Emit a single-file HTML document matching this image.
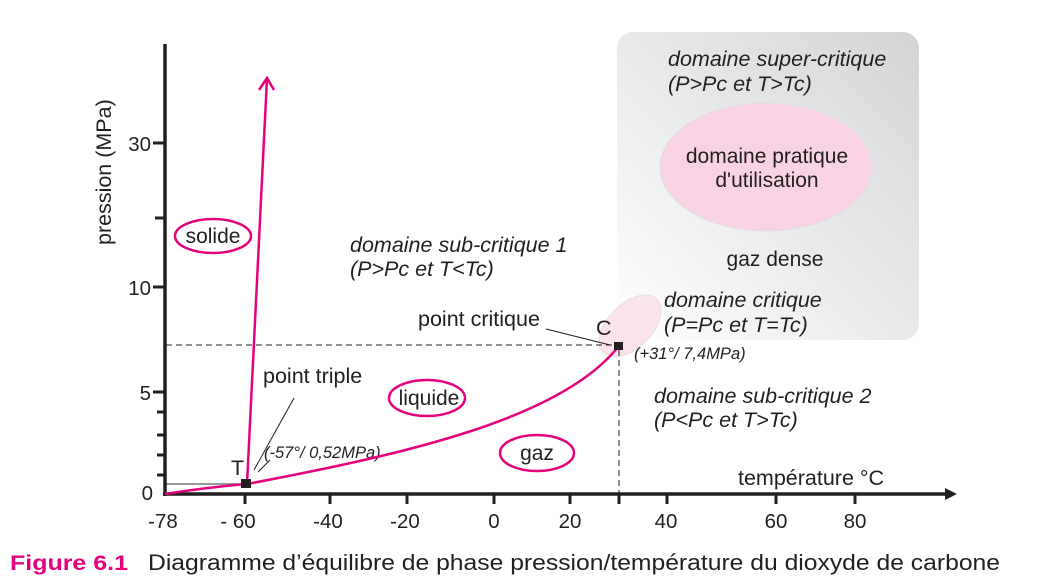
<!DOCTYPE html>
<html><head><meta charset="utf-8"><style>
body{margin:0;background:#fff;}
svg{display:block;font-family:"Liberation Sans",sans-serif;}
</style></head><body>
<svg width="1042" height="578" viewBox="0 0 1042 578" xmlns="http://www.w3.org/2000/svg">
<defs>
<linearGradient id="g" x1="0" y1="1" x2="1" y2="0">
<stop offset="0" stop-color="#ffffff"/><stop offset="0.55" stop-color="#e6e7e8"/><stop offset="1" stop-color="#d4d5d7"/>
</linearGradient>
</defs>
<rect x="617" y="32" width="302" height="308" rx="16" fill="url(#g)"/>
<ellipse cx="766" cy="167" rx="106" ry="64" fill="#f9d3e3" stroke="#ddd" stroke-width="0.8"/>
<ellipse cx="630" cy="326" rx="22" ry="38" transform="rotate(45 630 326)" fill="#fbe3ec" stroke="#ddd" stroke-width="0.8"/>
<text fill="#231f20" font-size="21.5" font-style="italic">
<tspan x="668" y="66">domaine super-critique</tspan><tspan x="668" y="91">(P&gt;Pc et T&gt;Tc)</tspan>
<tspan x="350" y="252">domaine sub-critique 1</tspan><tspan x="350" y="276">(P&gt;Pc et T&lt;Tc)</tspan>
<tspan x="664" y="307">domaine critique</tspan><tspan x="664" y="332">(P=Pc et T=Tc)</tspan>
<tspan x="654" y="403">domaine sub-critique 2</tspan><tspan x="654" y="427">(P&lt;Pc et T&gt;Tc)</tspan>
</text>
<text fill="#231f20" font-size="21" text-anchor="middle"><tspan x="767" y="163">domaine pratique</tspan><tspan x="767" y="187">d'utilisation</tspan></text>
<text x="775" y="266" fill="#231f20" font-size="21" text-anchor="middle">gaz dense</text>
<path d="M166 345 H618 M619 350 V494" stroke="#231f20" stroke-width="1" stroke-dasharray="6,4" fill="none"/>
<path d="M166 484 H247" stroke="#999" stroke-width="2"/>
<path d="M165 44 V496 M163 494 H945" stroke="#231f20" stroke-width="3.5" fill="none"/>
<path d="M945 488 L957 494 L945 500Z" fill="#231f20"/>
<g stroke="#231f20" stroke-width="3">
<path d="M153 143H165M155 218H165M153 287H165M153 392H165M157 412H165M157 435H165M157 455H165M157 475H165"/>
<path d="M245 494v10M330 494v10M407 494v10M494 494v10M570 494v10M619 494v10M667 494v10M776 494v10M855 494v10"/>
</g>
<g fill="#231f20" font-size="20.5">
<text x="151" y="151" text-anchor="end">30</text>
<text x="151" y="295" text-anchor="end">10</text>
<text x="151" y="400" text-anchor="end">5</text>
<text x="153" y="500" text-anchor="end">0</text>
<g text-anchor="middle">
<text x="163" y="528">-78</text><text x="238" y="528">- 60</text><text x="328" y="528">-40</text><text x="405" y="528">-20</text><text x="494" y="528">0</text><text x="570" y="528">20</text><text x="666" y="528">40</text><text x="776" y="528">60</text><text x="855" y="528">80</text>
</g>
</g>
<g fill="#231f20" font-size="21.5">
<text x="738" y="485">température °C</text>
<text transform="translate(111 245) rotate(-90)">pression (MPa)</text>
<text x="263" y="383">point triple</text>
<text x="418" y="326">point critique</text>
<text x="596" y="335">C</text>
<text x="231" y="475">T</text>
</g>
<g fill="#231f20" font-size="16.5" font-style="italic">
<text x="264" y="458">(-57°/ 0,52MPa)</text>
<text x="634" y="359">(+31°/ 7,4MPa)</text>
</g>
<path d="M294 398 L254 470 M270 460 L258 472 M546 329 L610 345" stroke="#231f20" stroke-width="1"/>
<g stroke="#e5007e" stroke-width="2.5" fill="none">
<path d="M165 494 Q210 487 247 484"/>
<path d="M247 484 C400 455 560 420 618 347"/>
<path d="M247 484 L267 78"/>
<path d="M259 90 L267 78 L274 90"/>
<ellipse cx="213" cy="236" rx="38" ry="17"/>
<ellipse cx="427" cy="398" rx="38" ry="18"/>
<ellipse cx="537" cy="453" rx="37" ry="18"/>
</g>
<g fill="#231f20" font-size="21" text-anchor="middle">
<text x="213" y="243">solide</text><text x="429" y="405">liquide</text><text x="537" y="460">gaz</text>
</g>
<rect x="241" y="479" width="10" height="9" fill="#231f20"/>
<rect x="614" y="342" width="9" height="8" fill="#231f20"/>
<text x="10" y="570" font-size="21" fill="#e5007e" font-weight="bold" textLength="118" lengthAdjust="spacingAndGlyphs">Figure 6.1</text>
<text x="148" y="570" font-size="22" fill="#231f20" textLength="852" lengthAdjust="spacingAndGlyphs">Diagramme d’équilibre de phase pression/température du dioxyde de carbone</text>
</svg>
</body></html>
